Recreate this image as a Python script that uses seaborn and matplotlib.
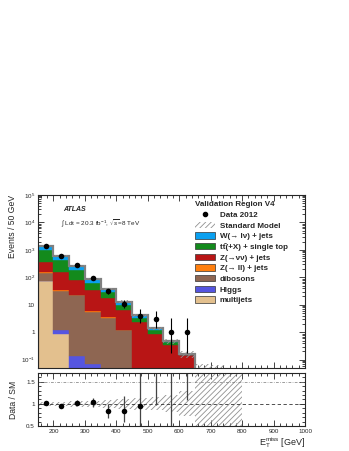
import numpy as np
import pandas as pd
import matplotlib
matplotlib.use("Agg")
import matplotlib.pyplot as plt
import seaborn as sns
from matplotlib.patches import Patch
from matplotlib.lines import Line2D
from matplotlib.ticker import FixedLocator, FixedFormatter, MultipleLocator, LogLocator, NullFormatter

# === DATA ===
# MET bins (GeV)
edges = [150, 200, 250, 300, 350, 400, 450, 500, 550, 600, 650, 700, 750, 800]

# stacked SM backgrounds, events per 50 GeV bin
w_jets   = [420, 195, 82, 27, 7.0, 3.6, 0.8, 0.2, 0.05, 0.003, 0, 0, 0]
ttbar    = [610, 264, 104, 28, 12, 3.2, 1.0, 0.3, 0.09, 0.004, 0, 0, 0]
znunu    = [220, 124, 55, 29, 14.5, 5.0, 2.4, 0.9, 0.34, 0.15, 0.035, 0.033, 0.02]
zll      = [10, 3.0, 1.5, 0.4, 0.2, 0.08, 0, 0, 0, 0, 0, 0, 0]
dibosons = [67, 30, 21.8, 5.5, 3.3, 1.15, 0, 0, 0, 0, 0, 0, 0]
higgs    = [0.8, 0.3, 0.14, 0.07, 0.02, 0.01, 0, 0, 0, 0, 0, 0, 0]
multijet = [72, 0.9, 0, 0, 0, 0, 0, 0, 0, 0, 0, 0, 0]

# relative uncertainty on the SM total
sm_rel_err = [0.04, 0.04, 0.06, 0.07, 0.09, 0.11, 0.14, 0.15, 0.19, 0.28, 1.0, 1.0, 1.0]

# Data 2012
data_x  = [175, 225, 275, 325, 375, 425, 475, 525, 575, 625]
data_y  = [1420, 590, 272, 93, 31, 11, 4, 3, 1, 1]
data_lo = [38, 24, 16.5, 9.6, 5.5, 3.3, 1.91, 1.63, 0.83, 0.83]
data_hi = [38, 24, 16.5, 9.6, 5.6, 4.3, 3.16, 2.92, 2.3, 2.3]

ytick_vals = [0.1, 1, 10, 100, 1e3, 1e4, 1e5]
ytick_labels = ["$10^{-1}$", "1", "10", "$10^{2}$", "$10^{3}$", "$10^{4}$", "$10^{5}$"]

procs = {
    "W(\u2192 l\u03bd) + jets": (w_jets, "#0aa0f0"),
    "tt\u0304(+X) + single top": (ttbar, "#138a1c"),
    "Z(\u2192\u03bd\u03bd) + jets": (znunu, "#b81515"),
    "Z(\u2192 ll) + jets": (zll, "#ff7f0e"),
    "dibosons": (dibosons, "#8e6652"),
    "Higgs": (higgs, "#5555e0"),
    "multijets": (multijet, "#e3c08e"),
}

# === STYLE ===
sns.set_style("ticks")
plt.rcParams["font.family"] = ["Liberation Sans", "DejaVu Sans"]
plt.rcParams["mathtext.fontset"] = "custom"
plt.rcParams["mathtext.rm"] = "Liberation Sans"
plt.rcParams["mathtext.it"] = "Liberation Sans:italic"
plt.rcParams["mathtext.bf"] = "Liberation Sans:bold"
plt.rcParams["hatch.color"] = "#909090"
plt.rcParams["hatch.linewidth"] = 0.6

edges_a = np.array(edges, dtype=float)
centers = 0.5 * (edges_a[:-1] + edges_a[1:])

rows = []
for name, (vals, col) in procs.items():
    for c, v in zip(centers, vals):
        rows.append({"met": c, "events": v, "process": name})
df = pd.DataFrame(rows)

sm = np.sum([np.array(v, dtype=float) for v, _ in procs.values()], axis=0)
rel = np.array(sm_rel_err)

fig = plt.figure(figsize=(3.49, 4.51), dpi=100)
ax1 = fig.add_axes([0.108, 0.184, 0.766, 0.384])
ax2 = fig.add_axes([0.108, 0.0554, 0.766, 0.118])

# === MAIN PANEL ===
sns.histplot(data=df, x="met", weights="events", hue="process",
             hue_order=list(procs.keys()),
             palette={k: c for k, (v, c) in procs.items()},
             multiple="stack", bins=edges, element="bars", fill=True,
             alpha=1, linewidth=0, legend=False, ax=ax1)
for p in ax1.patches:
    p.set_edgecolor(p.get_facecolor())
    p.set_linewidth(0.3)
ax1.set_yscale("log")

# SM total outline and uncertainty band
ax1.stairs(sm, edges_a, color="#808080", lw=1.6)
up = np.append(sm * (1 + rel), sm[-1] * (1 + rel[-1]))
dn = np.append(sm * (1 - rel), sm[-1] * (1 - rel[-1]))
ax1.fill_between(edges_a, np.clip(dn, 1e-4, None), up, step="post",
                 facecolor="none", edgecolor="#909090", hatch="//////", lw=0)

ax1.errorbar(data_x, data_y, yerr=[data_lo, data_hi], fmt="none",
             ecolor="black", elinewidth=0.8, capsize=0)
sns.scatterplot(x=data_x, y=data_y, color="black", s=16, linewidth=0,
                ax=ax1, zorder=5)

ax1.set_xlim(150, 1000)
ax1.set_ylim(0.05, 1e5)
ax1.yaxis.set_major_locator(FixedLocator(ytick_vals))
ax1.yaxis.set_major_formatter(FixedFormatter(ytick_labels))
ax1.yaxis.set_minor_locator(LogLocator(base=10, subs=np.arange(2, 10)))
ax1.yaxis.set_minor_formatter(NullFormatter())
ax1.xaxis.set_major_locator(MultipleLocator(100))
ax1.xaxis.set_minor_locator(MultipleLocator(20))
ax1.set_xticklabels([])
ax1.set_xlabel("")
ax1.set_ylabel("Events / 50 GeV", fontsize=6.2, loc="top", labelpad=3)

ax1.text(0.095, 0.915, "ATLAS", transform=ax1.transAxes, fontsize=5,
         fontweight="bold", fontstyle="italic", va="center")
ax1.text(0.088, 0.835, r"$\int$ Ldt = 20.3 fb$^{-1}$, $\sqrt{s}$=8 TeV",
         transform=ax1.transAxes, fontsize=4.6, va="center")

handles = [Line2D([], [], marker="o", color="black", ls="none", ms=3),
           Patch(facecolor="none", edgecolor="#909090", hatch="//////", lw=0)]
labels = ["Data 2012", "Standard Model"]
for name, (v, col) in procs.items():
    handles.append(Patch(facecolor=col, edgecolor="#333333", lw=0.5))
    labels.append(name)
leg = ax1.legend(handles, labels, loc="upper left", bbox_to_anchor=(0.565, 1.0),
                 frameon=False, fontsize=5.8, title="Validation Region V4",
                 title_fontproperties={"weight": "bold", "size": 5.8},
                 alignment="left", handlelength=2.5, handleheight=0.85,
                 labelspacing=0.33, handletextpad=0.55, borderpad=0.3)
for t in leg.get_texts():
    t.set_fontweight("bold")

# === RATIO PANEL ===
ratio = np.array(data_y) / sm[:len(data_y)]
r_lo = np.array(data_lo) / sm[:len(data_y)]
r_hi = np.array(data_hi) / sm[:len(data_y)]

rup = np.append(1 + rel, 1 + rel[-1])
rdn = np.append(1 - rel, 1 - rel[-1])
ax2.fill_between(edges_a, rdn, rup, step="post", facecolor="none",
                 edgecolor="#909090", hatch="//////", lw=0)
ax2.axhline(1.0, color="#333333", lw=0.6, ls=(0, (4, 3)))
ax2.axhline(1.5, color="#777777", lw=0.5, ls=(0, (4, 2, 1, 2)))
ax2.errorbar(data_x, ratio, yerr=[r_lo, r_hi], fmt="none", ecolor="#444444",
             elinewidth=0.9, capsize=0)
sns.scatterplot(x=data_x, y=ratio, color="black", s=16, linewidth=0,
                ax=ax2, zorder=5)

ax2.set_xlim(150, 1000)
ax2.set_ylim(0.5, 1.7)
ax2.yaxis.set_major_locator(FixedLocator([0.5, 1.0, 1.5]))
ax2.yaxis.set_major_formatter(FixedFormatter(["0.5", "1", "1.5"]))
ax2.yaxis.set_minor_locator(MultipleLocator(0.1))
ax2.xaxis.set_major_locator(MultipleLocator(100))
ax2.xaxis.set_minor_locator(MultipleLocator(20))
ax2.set_ylabel("Data / SM", fontsize=6.2, labelpad=6)
ax2.set_xlabel(r"E$_{\mathregular{T}}^{\mathregular{miss}}$ [GeV]", fontsize=6.5,
               loc="right", labelpad=1)

for ax in (ax1, ax2):
    ax.tick_params(which="both", direction="in", top=True, right=True,
                   labelsize=4.5, width=0.6, pad=2)
    ax.tick_params(which="major", length=4)
    ax.tick_params(which="minor", length=2)
    for s in ax.spines.values():
        s.set_linewidth(0.8)

fig.savefig("out.png", dpi=100)
